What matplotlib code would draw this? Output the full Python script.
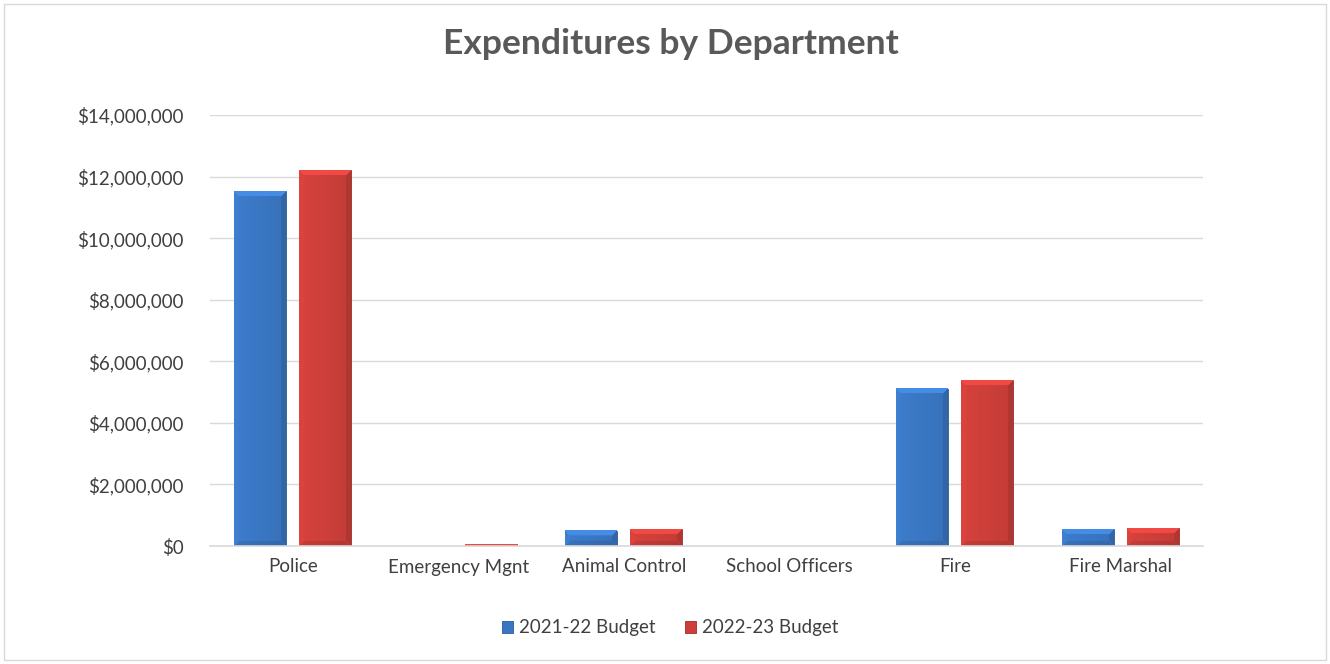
import matplotlib
matplotlib.use("Agg")
import matplotlib.pyplot as plt
from matplotlib.ticker import FuncFormatter, MultipleLocator
from matplotlib.patches import Rectangle
from matplotlib.colors import to_rgb
import numpy as np

categories = ["Police", "Emergency Mgnt", "Animal Control", "School Officers", "Fire", "Fire Marshal"]
budget_2122 = [11530000, 0, 490000, 0, 5100000, 550000]
budget_2223 = [12210000, 60000, 550000, 0, 5390000, 580000]
series_names = ["2021-22 Budget", "2022-23 Budget"]

plt.rcParams['font.family'] = ['Lato', 'DejaVu Sans']

W, H = 1330, 664
fig = plt.figure(figsize=(W / 100, H / 100), dpi=100)
ax = fig.add_axes([210/W, 1-546/H, 993/W, (546-115)/H])

x = np.arange(len(categories))
w = 0.314
off = 0.195
blue = "#3a77c3"
red = "#cd3f3a"

def lw_for(vals):
    return [0 if v == 0 else 0.6 for v in vals]

b1 = ax.bar(x - off, budget_2122, w, color=blue, edgecolor="#2d5c96", linewidth=lw_for(budget_2122),
            label=series_names[0], zorder=3)
b2 = ax.bar(x + off, budget_2223, w, color=red, edgecolor="#9a2e2a", linewidth=lw_for(budget_2223),
            label=series_names[1], zorder=3)

ax.set_xlim(-0.5, len(categories) - 0.5)
ax.set_ylim(0, 14000000)

def bevel_image(color, wpx, hpx, b=5):
    base = np.array(to_rgb(color))
    wpx = max(int(round(wpx)), 2)
    hpx = max(int(round(hpx)), 1)
    xs = np.arange(wpx)[None, :] + 0.5
    ys = np.arange(hpx)[:, None] + 0.5  # 0 = top
    f = np.ones((hpx, wpx))
    f = f * (1.05 - 0.10 * xs / wpx)
    bb = min(b, hpx / 2.5, wpx / 4)
    dl = xs
    dr = wpx - xs
    dt = ys
    db = hpx - ys
    m = np.minimum(np.minimum(dl, dr), np.minimum(dt, db))
    region = m < bb
    top = region & (dt <= np.minimum(np.minimum(dl, dr), db))
    bottom = region & (db < np.minimum(np.minimum(dl, dr), dt))
    left = region & (dl < np.minimum(dt, db)) & (dl <= dr)
    right = region & (dr < np.minimum(dt, db)) & (dr < dl)
    f = np.where(top, 1.18, f)
    f = np.where(left, f * 1.02, f)
    f = np.where(right, f * 0.90, f)
    f = np.where(bottom, f * 0.92, f)
    img = np.clip(base[None, None, :] * f[:, :, None], 0, 1)
    return img

px_per_x = ax.transData.transform((1, 0))[0] - ax.transData.transform((0, 0))[0]
px_per_y = ax.transData.transform((0, 1e6))[1] - ax.transData.transform((0, 0))[1]

for bars, col in ((b1, blue), (b2, red)):
    for r in bars:
        h = r.get_height()
        if h <= 0:
            continue
        x0 = r.get_x()
        ww = r.get_width()
        img = bevel_image(col, ww * px_per_x, h / 1e6 * px_per_y)
        ax.imshow(img, extent=(x0, x0 + ww, 0, h), aspect="auto", zorder=3.5,
                  interpolation="bilinear", origin="upper")

ax.set_xlim(-0.5, len(categories) - 0.5)
ax.set_ylim(0, 14000000)
ax.yaxis.set_major_locator(MultipleLocator(2000000))
ax.yaxis.set_major_formatter(FuncFormatter(lambda v, p: f"${v:,.0f}"))
ax.grid(axis="y", color="#d9d9d9", linewidth=1.0, zorder=0)
ax.set_axisbelow(True)
for s in ["top", "right", "left"]:
    ax.spines[s].set_visible(False)
ax.spines["bottom"].set_color("#d9d9d9")
ax.spines["bottom"].set_linewidth(1.2)
ax.spines["bottom"].set_zorder(5)
ax.set_xticks(x)
ax.set_xticklabels(categories)
ax.tick_params(axis="both", length=0, labelsize=13.5, colors="#404040")
ax.tick_params(axis="x", pad=9)
ax.tick_params(axis="y", pad=19)

fig.text(671/W, 1-44/H, "Expenditures by Department", ha="center", va="center",
         fontsize=25.5, fontweight="bold", color="#595959")

leg = fig.legend(handles=[b1, b2], labels=series_names, loc="center", bbox_to_anchor=(670/W, 1-628/H),
                 ncol=2, frameon=False, fontsize=13.5, handlelength=0.6, handleheight=0.6,
                 handletextpad=0.3, columnspacing=1.6)
for t in leg.get_texts():
    t.set_color("#404040")

fig.patches.append(Rectangle((4/W, 4/H), 1322/W, 656/H, transform=fig.transFigure,
                             fill=False, edgecolor="#d9d9d9", linewidth=1.0))

fig.savefig("out.png", dpi=100, facecolor="white")
